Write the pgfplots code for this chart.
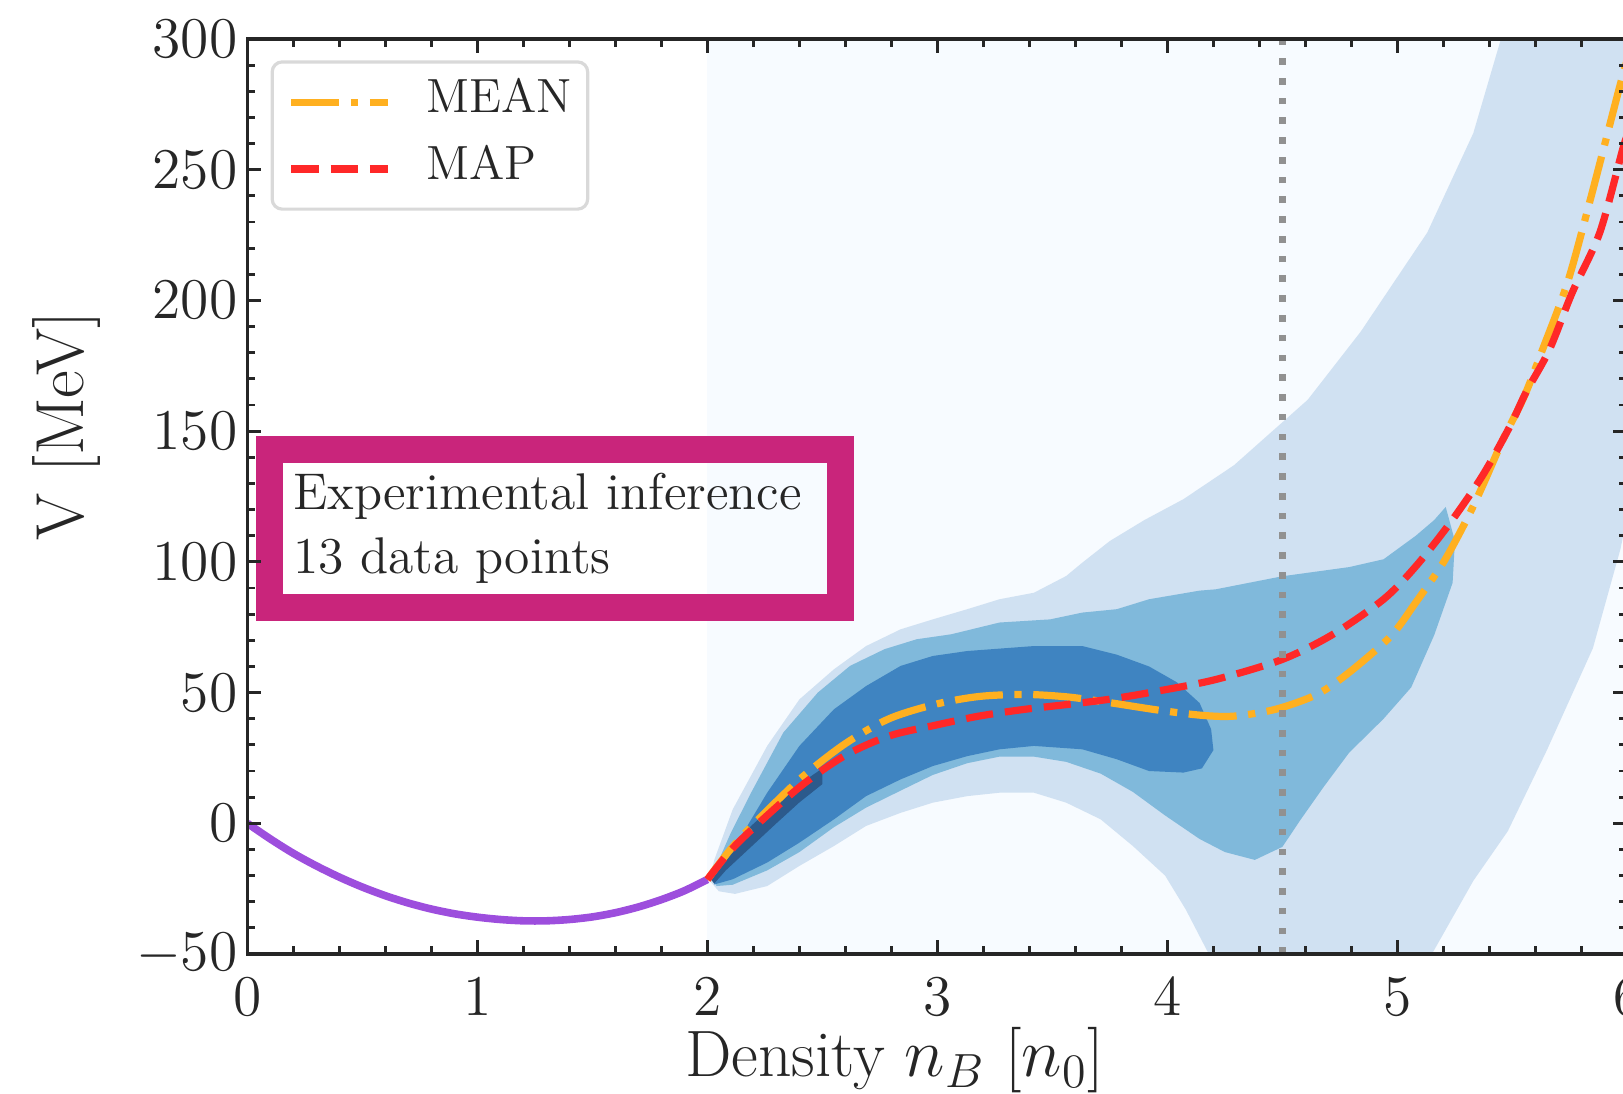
\documentclass[border=0pt]{standalone}
\usepackage{pgfplots}
\pgfplotsset{compat=1.18}

% Blues shades for the posterior density levels
\definecolor{bl0}{HTML}{F7FBFF}
\definecolor{bl1}{HTML}{D0E1F2}
\definecolor{bl2}{HTML}{80B9DB}
\definecolor{bl3}{HTML}{3F84C1}
\definecolor{bl4}{HTML}{2C5A8C}
\definecolor{meancol}{HTML}{FFB020}
\definecolor{mapcol}{HTML}{FF2828}
\definecolor{purp}{HTML}{9D4EDD}
\definecolor{expbox}{HTML}{C9257B}
\definecolor{axcol}{HTML}{262626}
\definecolor{vline}{HTML}{919191}
\definecolor{legframe}{HTML}{D9D9D9}

\begin{document}
\begin{tikzpicture}
\begin{axis}[
  at={(0pt,0pt)}, anchor=south west,
  scale only axis, width=345pt, height=228.75pt,
  xmin=0, xmax=6, ymin=-50, ymax=300,
  xtick={0,1,2,3,4,5,6}, ytick={-50,0,50,100,150,200,250,300},
  minor x tick num=4, minor y tick num=4,
  tick align=inside,
  major tick length=3.5pt, minor tick length=2pt,
  tick style={axcol, line width=0.7pt},
  axis line style={axcol, line width=0.8pt},
  axis on top,
  tick label style={font=\fontsize{15}{18}\selectfont, text=axcol},
  xticklabel style={inner sep=0pt, yshift=-5.8pt},
  yticklabel style={inner sep=0pt, xshift=-2.3pt},
  xlabel={Density $n_B$ [$n_0$]},
  ylabel={V [MeV]},
  xlabel style={font=\fontsize{16.4}{19}\selectfont, text=axcol,
    at={(axis description cs:0.469,-0.1342)}, anchor=base},
  ylabel style={font=\fontsize{17}{20}\selectfont, text=axcol,
    at={(axis description cs:-0.1191,0.577)}, anchor=base},
  legend cell align=left,
  legend style={
    at={(axis description cs:0.0168,0.9767)}, anchor=north west,
    draw=legframe, line width=0.8pt, rounded corners=2.5pt, fill=white,
    inner xsep=3.9pt, inner ysep=4.5pt,
    row sep=5.6pt, column sep=8.7pt,
    font=\fontsize{12}{14.4}\selectfont, text=axcol,
    nodes={inner sep=0pt, text height=8.2pt, text depth=2.9pt},
  },
  legend image code/.code={\draw[#1, line width=1.8pt] (0pt,0pt) -- (24.2pt,0pt);},
]

% density levels
\addplot[draw=none, fill=bl0, forget plot] coordinates {(2,-50) (6,-50) (6,300) (2,300)} -- cycle;

\addplot[draw=none, fill=bl1, forget plot] coordinates {
 (2.01,-21) (2.03,-14) (2.11,5.3) (2.26,29.6) (2.40,47.4) (2.55,58.9) (2.69,67.8)
 (2.84,74.2) (2.98,78) (3.13,81.9) (3.27,85.7) (3.42,88.2) (3.56,94.6) (3.63,99.7)
 (3.75,108) (3.90,116) (4.07,124) (4.29,137) (4.61,162) (4.84,188) (5.13,226)
 (5.33,264) (5.45,300) (6,300)
 (6,118) (5.97,105) (5.85,67) (5.65,28) (5.48,-3) (5.33,-22) (5.15,-50)
 (4.18,-50)
 (4.08,-33) (3.99,-20) (3.85,-8.7) (3.71,1.5) (3.56,7.9) (3.42,11.7) (3.27,11.7)
 (3.13,10.4) (2.98,7.9) (2.84,4) (2.69,-1) (2.55,-8.7) (2.40,-16.3) (2.26,-24)
 (2.12,-27) (2.05,-26) (2.01,-22)} -- cycle;

\addplot[draw=none, fill=bl2, forget plot] coordinates {
 (2.02,-21) (2.04,-16) (2.10,-4) (2.19,11.7) (2.33,34.7) (2.48,50) (2.62,60.2)
 (2.77,66.6) (2.91,70.4) (3.06,72.3) (3.27,76.8) (3.49,78) (3.63,80.6) (3.78,81.9)
 (3.92,85.7) (4.14,89) (4.21,89.5) (4.50,94.5) (4.79,98) (4.94,101) (5.08,110)
 (5.16,116) (5.21,121)
 (5.25,108) (5.24,92) (5.16,72) (5.06,52) (4.94,40) (4.79,27) (4.68,14) (4.58,1.5)
 (4.50,-9) (4.38,-14) (4.25,-11) (4.14,-6)
 (3.99,3) (3.85,12) (3.71,19) (3.56,23.5) (3.42,25.5) (3.27,25.5) (3.13,23)
 (2.98,18.5) (2.84,12.5) (2.69,6) (2.55,-1.5) (2.40,-11) (2.26,-18) (2.11,-23.5)
 (2.04,-24)} -- cycle;

\addplot[draw=none, fill=bl3, forget plot] coordinates {
 (2.02,-21) (2.06,-17.6) (2.16,-3) (2.26,11.7) (2.40,29.6) (2.55,43.6) (2.69,52.5)
 (2.84,60.2) (2.98,64) (3.13,65.9) (3.42,67.8) (3.63,67.8) (3.78,64.5) (3.92,60)
 (4.04,54) (4.14,46) (4.19,36) (4.20,28)
 (4.15,21) (4.07,19.4) (3.92,20) (3.78,24.5) (3.63,28.3) (3.42,29.6) (3.27,28.3)
 (3.13,25.7) (2.98,21.9) (2.84,16.8) (2.69,10.4) (2.55,1.5) (2.40,-7.4) (2.26,-15)
 (2.11,-21.4) (2.03,-23.4)} -- cycle;

\addplot[draw=none, fill=bl4, forget plot] coordinates {
 (2.01,-21) (2.10,-9) (2.19,-1) (2.33,10) (2.45,18) (2.50,21)
 (2.50,15) (2.40,8) (2.30,0) (2.19,-9) (2.08,-18) (2.03,-23)} -- cycle;

% low-density part of the potential
\addplot[purp, line width=1.9pt, smooth, forget plot] coordinates {
 (0,0) (0.1,-6) (0.2,-11.5) (0.3,-16.3) (0.4,-20.6) (0.5,-24.4) (0.6,-27.7)
 (0.7,-30.5) (0.8,-32.8) (0.9,-34.6) (1.0,-35.9) (1.1,-36.8) (1.2,-37.3) (1.3,-37.3)
 (1.4,-36.8) (1.5,-35.8) (1.6,-34.2) (1.7,-32) (1.8,-29.2) (1.9,-25.8) (2.0,-21.5)};

% posterior mean
\addplot[meancol, line width=1.8pt, smooth, dash pattern=on 12pt off 2.9pt on 1.8pt off 2.9pt] coordinates {
 (2.0,-21.5) (2.1,-10) (2.21,0.5) (2.41,17.5) (2.60,30.5) (2.79,40) (2.99,45.5)
 (3.18,48.5) (3.38,49.3) (3.57,48.3) (3.76,46) (3.96,43.3) (4.15,41.3) (4.29,41)
 (4.47,43.6) (4.65,49.3) (4.79,57.7) (4.97,71.5) (5.08,84.5) (5.20,99.8) (5.30,116)
 (5.37,129) (5.46,147) (5.55,163) (5.63,181) (5.74,207) (5.84,239) (5.97,283) (6.0,292)};
\addlegendentry{MEAN}

% maximum a posteriori
\addplot[mapcol, line width=1.8pt, smooth, dash pattern=on 6.8pt off 3pt] coordinates {
 (2.0,-21.5) (2.1,-10.5) (2.21,-1) (2.41,14.5) (2.60,26) (2.79,33.4) (2.99,37.5)
 (3.18,41) (3.38,43.6) (3.57,45.5) (3.76,47.6) (3.96,50.6) (4.21,55) (4.50,62.7)
 (4.72,72.3) (4.94,85.7) (5.08,98.3) (5.23,115) (5.37,133) (5.49,152) (5.56,165)
 (5.66,181) (5.76,203) (5.88,226) (5.98,258) (6.0,263)};
\addlegendentry{MAP}

% reference density
\addplot[vline, line width=1.67pt, dash pattern=on 1.67pt off 3.27pt, forget plot]
 coordinates {(4.5,-50) (4.5,300)};

% annotation box
\draw[expbox, line width=6.8pt] (axis cs:0.0957,82.4) rectangle (axis cs:2.578,143.1);
\node[anchor=base west, inner sep=0pt, font=\fontsize{12.9}{15.5}\selectfont, text=axcol]
  at (axis cs:0.1948,120) {Experimental inference};
\node[anchor=base west, inner sep=0pt, font=\fontsize{12.9}{15.5}\selectfont, text=axcol]
  at (axis cs:0.1948,95.7) {13 data points};
\end{axis}
\pgfresetboundingbox
\path[use as bounding box] (-61.85pt,-34.75pt) rectangle (343.9pt,238.5pt);
\end{tikzpicture}
\end{document}
